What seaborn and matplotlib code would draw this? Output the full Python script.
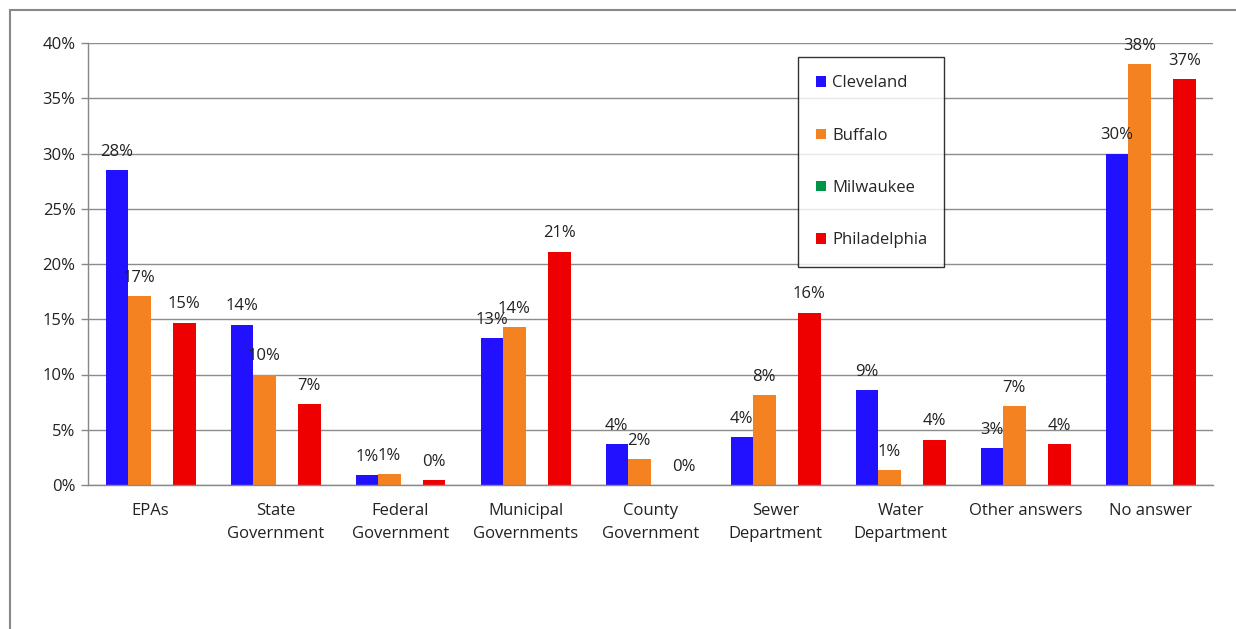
import numpy as np
import pandas as pd
import matplotlib
matplotlib.use("Agg")
import matplotlib.pyplot as plt
from matplotlib.patches import Patch, Rectangle
import seaborn as sns

categories = ["EPAs", "State\nGovernment", "Federal\nGovernment", "Municipal\nGovernments",
              "County\nGovernment", "Sewer\nDepartment", "Water\nDepartment", "Other answers", "No answer"]
cities = ["Cleveland", "Buffalo", "Milwaukee", "Philadelphia"]
cleveland = [28.5, 14.5, 0.9, 13.3, 3.7, 4.3, 8.6, 3.35, 30.0]
buffalo = [17.1, 10.0, 1.0, 14.3, 2.35, 8.1, 1.36, 7.15, 38.1]
milwaukee = [np.nan] * 9
philadelphia = [14.7, 7.3, 0.45, 21.1, 0.0, 15.6, 4.1, 3.7, 36.7]
yticks = [0, 5, 10, 15, 20, 25, 30, 35, 40]
colors = ["#2211FF", "#F58220", "#00934A", "#EE0000"]

rows = []
for city, vals in zip(cities, [cleveland, buffalo, milwaukee, philadelphia]):
    for cat, v in zip(categories, vals):
        rows.append({"category": cat, "city": city, "value": v})
df = pd.DataFrame(rows)

sns.set_style("white")
plt.rcParams["font.family"] = ["Open Sans", "DejaVu Sans"]

fig = plt.figure(figsize=(12.36, 6.29), dpi=100)
W, H = 1236, 629
ax = fig.add_axes([88 / W, (H - 485) / H, (1213 - 88) / W, (485 - 43) / H])

sns.barplot(data=df, x="category", y="value", hue="city", order=categories,
            hue_order=cities, palette=colors, width=0.72, gap=0, dodge=True,
            errorbar=None, ax=ax, legend=False, saturation=1, linewidth=0)

for c in ax.containers:
    ax.bar_label(c, fmt=lambda v: "" if np.isnan(v) else f"{v:.0f}%", padding=7.5,
                 fontsize=12, color="#222222")

ax.set_xlim(-0.5, len(categories) - 0.5)
ax.set_ylim(0, 40)
ax.set_yticks(yticks)
ax.set_yticklabels([f"{t}%" for t in yticks], fontsize=12, color="#222222")
ax.set_xlabel("")
ax.set_ylabel("")
ax.set_xticks(range(len(categories)))
ax.set_xticklabels(categories, fontsize=12, color="#222222", linespacing=1.6)
ax.set_xticks(np.arange(-0.5, len(categories), 1.0), minor=True)
ax.tick_params(axis="x", which="major", length=0, pad=13)
ax.tick_params(axis="x", which="minor", length=5, color="#888888", direction="out", width=1)
ax.tick_params(axis="y", which="major", length=5, color="#888888", direction="out", width=1, pad=4,
               left=True)
ax.yaxis.grid(True, color="#8c8c8c", linewidth=1)
ax.set_axisbelow(True)
for s in ["top", "right"]:
    ax.spines[s].set_visible(False)
for s in ["left", "bottom"]:
    ax.spines[s].set_color("#888888")
    ax.spines[s].set_linewidth(1)

handles = [Patch(facecolor=col, edgecolor="none", label=city) for col, city in zip(colors, cities)]
leg = fig.legend(handles=handles, loc="upper left",
                 bbox_to_anchor=(798 / W, (H - 265) / H, (944 - 798) / W, (265 - 57) / H),
                 mode="expand", fontsize=12, frameon=True, fancybox=False, edgecolor="black",
                 handlelength=0.6, handleheight=0.6, handletextpad=0.35, labelspacing=2.18,
                 borderpad=1.1, borderaxespad=0)
leg.get_frame().set_linewidth(1.0)

fig.patches.append(Rectangle((10 / W, -0.2), 1.2, (H - 10) / H + 0.2, transform=fig.transFigure,
                             fill=False, edgecolor="#888888", linewidth=1.5, zorder=10))

fig.savefig("out.png", dpi=100)
